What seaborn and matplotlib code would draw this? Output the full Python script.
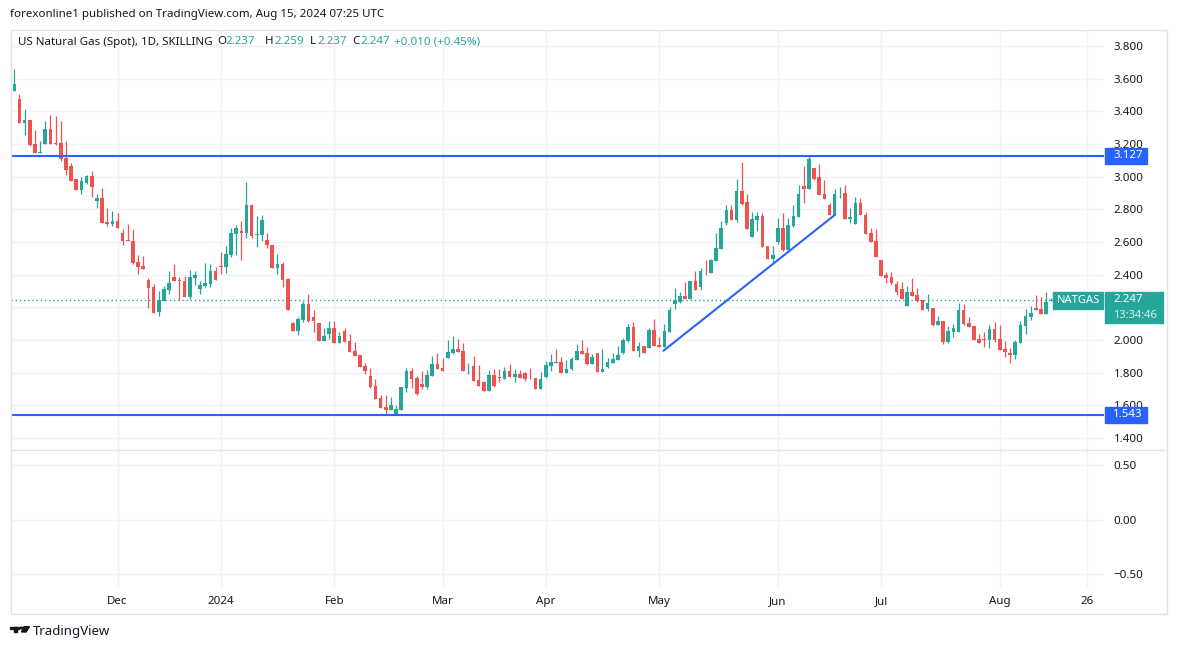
import numpy as np
import pandas as pd
import matplotlib
matplotlib.use("Agg")
import matplotlib.pyplot as plt
from matplotlib.patches import Rectangle, Polygon, Circle
from matplotlib.lines import Line2D
import seaborn as sns

# daily OHLC (Nov 2023 -> Aug 14 2024)
opens = [3.526, 3.475, 3.330, 3.347, 3.200, 3.147, 3.202, 3.292, 3.208, 3.208,
         3.116, 3.065, 2.985, 2.920, 2.963, 3.004, 2.853, 2.871, 2.722, 2.710,
         2.728, 2.657, 2.612, 2.606, 2.479, 2.455, 2.367, 2.322, 2.173, 2.241,
         2.308, 2.383, 2.367, 2.363, 2.265, 2.382, 2.314, 2.331, 2.345, 2.423,
         2.453, 2.447, 2.521, 2.649, 2.668, 2.657, 2.827, 2.645, 2.645, 2.612,
         2.582, 2.443, 2.465, 2.376, 2.104, 2.057, 2.125, 2.221, 2.141, 2.104,
         1.996, 2.037, 2.074, 1.984, 2.053, 1.992, 1.933, 1.908, 1.840, 1.779,
         1.718, 1.642, 1.589, 1.571, 1.542, 1.571, 1.706, 1.810, 1.767, 1.730,
         1.710, 1.779, 1.855, 1.828, 1.891, 1.920, 1.944, 1.932, 1.814, 1.840,
         1.755, 1.742, 1.687, 1.785, 1.773, 1.761, 1.810, 1.773, 1.791, 1.800,
         1.769, 1.767, 1.700, 1.775, 1.841, 1.865, 1.865, 1.800, 1.822, 1.877,
         1.932, 1.920, 1.853, 1.920, 1.804, 1.834, 1.859, 1.877, 1.920, 1.994,
         2.077, 1.932, 1.963, 1.951, 2.061, 1.969, 1.957, 2.049, 2.220, 2.232,
         2.269, 2.251, 2.361, 2.324, 2.418, 2.410, 2.484, 2.557, 2.716, 2.796,
         2.734, 2.912, 2.845, 2.630, 2.734, 2.759, 2.575, 2.496, 2.600, 2.685,
         2.551, 2.698, 2.753, 2.943, 2.924, 3.053, 2.998, 2.894, 2.826, 2.765,
         2.898, 2.900, 2.741, 2.710, 2.839, 2.765, 2.655, 2.606, 2.490, 2.398,
         2.385, 2.343, 2.313, 2.209, 2.294, 2.276, 2.245, 2.190, 2.196, 2.092,
         2.117, 1.988, 2.049, 2.049, 2.184, 2.104, 2.086, 2.007, 2.007, 2.000,
         2.068, 2.007, 1.945, 1.921, 1.909, 1.982, 2.086, 2.141, 2.196, 2.190,
         2.160, 2.237]
highs = [3.659, 3.506, 3.414, 3.347, 3.285, 3.218, 3.341, 3.377, 3.373, 3.341,
         3.218, 3.081, 2.985, 3.000, 3.010, 3.036, 2.892, 2.932, 2.810, 2.790,
         2.777, 2.681, 2.710, 2.679, 2.520, 2.516, 2.377, 2.342, 2.300, 2.332,
         2.422, 2.465, 2.387, 2.392, 2.429, 2.423, 2.361, 2.470, 2.463, 2.449,
         2.539, 2.576, 2.684, 2.706, 2.729, 2.968, 2.827, 2.759, 2.765, 2.653,
         2.582, 2.527, 2.478, 2.382, 2.108, 2.141, 2.241, 2.282, 2.184, 2.104,
         2.074, 2.116, 2.116, 2.049, 2.074, 2.037, 1.988, 1.908, 1.861, 1.828,
         1.761, 1.663, 1.663, 1.651, 1.600, 1.710, 1.828, 1.828, 1.779, 1.812,
         1.816, 1.902, 1.922, 1.889, 2.000, 2.024, 2.006, 1.981, 1.859, 1.902,
         1.846, 1.749, 1.816, 1.822, 1.822, 1.834, 1.853, 1.822, 1.816, 1.804,
         1.828, 1.767, 1.804, 1.873, 1.914, 1.947, 1.896, 1.877, 1.896, 1.975,
         2.002, 1.957, 1.914, 1.920, 1.945, 1.889, 1.920, 1.963, 2.012, 2.098,
         2.110, 1.988, 1.963, 2.073, 2.128, 2.018, 2.098, 2.202, 2.318, 2.294,
         2.355, 2.361, 2.422, 2.441, 2.490, 2.496, 2.655, 2.728, 2.826, 2.826,
         2.985, 3.090, 2.894, 2.783, 2.783, 2.777, 2.575, 2.575, 2.747, 2.777,
         2.747, 2.826, 2.949, 3.065, 3.126, 3.053, 3.077, 2.979, 2.839, 2.924,
         2.936, 2.949, 2.808, 2.875, 2.869, 2.783, 2.685, 2.679, 2.490, 2.416,
         2.416, 2.361, 2.356, 2.331, 2.380, 2.319, 2.245, 2.282, 2.196, 2.147,
         2.117, 2.086, 2.098, 2.227, 2.221, 2.141, 2.086, 2.037, 2.049, 2.092,
         2.111, 2.092, 1.994, 1.951, 2.000, 2.117, 2.190, 2.209, 2.276, 2.264,
         2.294, 2.259]
lows = [3.526, 3.330, 3.255, 3.188, 3.147, 3.147, 3.202, 3.202, 3.194, 3.098,
        3.010, 2.975, 2.920, 2.894, 2.953, 2.877, 2.810, 2.718, 2.698, 2.698,
        2.687, 2.581, 2.606, 2.463, 2.404, 2.434, 2.198, 2.167, 2.147, 2.241,
        2.281, 2.363, 2.245, 2.265, 2.251, 2.337, 2.282, 2.327, 2.327, 2.368,
        2.404, 2.412, 2.506, 2.521, 2.490, 2.627, 2.627, 2.570, 2.606, 2.566,
        2.443, 2.404, 2.327, 2.184, 2.057, 2.033, 2.112, 2.108, 2.049, 1.996,
        1.996, 2.004, 1.984, 1.984, 1.990, 1.929, 1.904, 1.837, 1.791, 1.706,
        1.638, 1.583, 1.542, 1.571, 1.542, 1.571, 1.679, 1.706, 1.665, 1.698,
        1.698, 1.779, 1.822, 1.810, 1.891, 1.914, 1.926, 1.810, 1.791, 1.749,
        1.720, 1.687, 1.687, 1.712, 1.742, 1.761, 1.773, 1.742, 1.767, 1.749,
        1.761, 1.700, 1.700, 1.765, 1.812, 1.859, 1.800, 1.800, 1.816, 1.877,
        1.914, 1.847, 1.853, 1.804, 1.804, 1.828, 1.859, 1.877, 1.914, 1.988,
        1.932, 1.896, 1.920, 1.951, 1.963, 1.957, 1.957, 2.049, 2.190, 2.226,
        2.251, 2.251, 2.306, 2.306, 2.398, 2.410, 2.484, 2.557, 2.704, 2.734,
        2.722, 2.826, 2.679, 2.630, 2.667, 2.569, 2.496, 2.477, 2.588, 2.545,
        2.551, 2.692, 2.753, 2.839, 2.924, 2.979, 2.888, 2.863, 2.765, 2.765,
        2.869, 2.741, 2.716, 2.710, 2.765, 2.649, 2.600, 2.508, 2.392, 2.349,
        2.336, 2.275, 2.251, 2.208, 2.270, 2.233, 2.184, 2.178, 2.086, 2.092,
        1.976, 1.982, 2.019, 2.049, 2.092, 2.080, 2.000, 1.982, 1.958, 1.951,
        1.988, 1.939, 1.896, 1.860, 1.884, 1.982, 2.037, 2.123, 2.184, 2.160,
        2.160, 2.237]
closes = [3.567, 3.330, 3.347, 3.194, 3.147, 3.153, 3.292, 3.202, 3.202, 3.108,
          3.043, 2.975, 2.920, 2.973, 3.004, 2.938, 2.871, 2.718, 2.710, 2.728,
          2.687, 2.606, 2.606, 2.469, 2.449, 2.434, 2.318, 2.167, 2.245, 2.312,
          2.349, 2.363, 2.361, 2.265, 2.384, 2.398, 2.335, 2.349, 2.423, 2.368,
          2.449, 2.527, 2.655, 2.686, 2.657, 2.827, 2.637, 2.651, 2.733, 2.582,
          2.443, 2.465, 2.368, 2.184, 2.057, 2.129, 2.221, 2.116, 2.116, 1.996,
          2.025, 2.074, 1.984, 2.025, 1.990, 1.929, 1.904, 1.837, 1.812, 1.710,
          1.638, 1.583, 1.571, 1.600, 1.575, 1.710, 1.810, 1.761, 1.671, 1.710,
          1.785, 1.855, 1.822, 1.810, 1.926, 1.944, 1.926, 1.810, 1.818, 1.749,
          1.720, 1.687, 1.785, 1.718, 1.767, 1.810, 1.773, 1.791, 1.767, 1.761,
          1.765, 1.700, 1.761, 1.847, 1.865, 1.859, 1.800, 1.822, 1.883, 1.932,
          1.914, 1.853, 1.896, 1.804, 1.822, 1.865, 1.883, 1.908, 2.000, 2.077,
          1.932, 1.963, 1.920, 2.061, 1.963, 1.957, 2.055, 2.184, 2.243, 2.269,
          2.251, 2.361, 2.306, 2.422, 2.414, 2.490, 2.563, 2.685, 2.796, 2.734,
          2.912, 2.832, 2.679, 2.741, 2.759, 2.569, 2.496, 2.520, 2.685, 2.551,
          2.704, 2.759, 2.894, 2.924, 3.108, 2.986, 2.888, 2.863, 2.765, 2.894,
          2.900, 2.741, 2.753, 2.839, 2.765, 2.649, 2.600, 2.508, 2.392, 2.379,
          2.349, 2.294, 2.251, 2.294, 2.270, 2.239, 2.184, 2.227, 2.092, 2.117,
          1.988, 2.056, 2.074, 2.184, 2.098, 2.080, 2.000, 1.982, 2.003, 2.068,
          2.000, 1.939, 1.927, 1.909, 1.988, 2.092, 2.147, 2.166, 2.184, 2.160,
          2.233, 2.247]

# bar index where each month label sits (TradingView counts trading days)
month_bars = [20, 40, 62, 83, 103, 125, 148, 168, 191, 208]
month_labels = ["Dec", "2024", "Feb", "Mar", "Apr", "May", "Jun", "Jul", "Aug", "26"]

price_ticks = [1.4, 1.6, 1.8, 2.0, 2.2, 2.4, 2.6, 2.8, 3.0, 3.2, 3.4, 3.6, 3.8]
osc_ticks = [-0.5, 0.0, 0.5]

resistance = 3.127
support = 1.543
last_price = 2.247
trend_x = [125.8, 159.0]
trend_y = [1.934, 2.765]

UP = "#26a69a"
DOWN = "#ef5350"
BLUE = "#2962ff"
TXT = "#131722"
GRID = "#f0f3fa"

df = pd.DataFrame({"open": opens, "high": highs, "low": lows, "close": closes})
df["bar"] = np.arange(len(df))
df["color"] = np.where(df["close"] >= df["open"], UP, DOWN)
df["body_lo"] = df[["open", "close"]].min(axis=1)
df["body_h"] = (df["close"] - df["open"]).abs().clip(lower=0.005)

sns.set_theme(style="white")
plt.rcParams["font.family"] = ["Noto Sans", "DejaVu Sans"]

W, H = 1177, 650
fig = plt.figure(figsize=(W / 100, H / 100), dpi=100)


def px_axes(x0, y0, x1, y1):
    return fig.add_axes([x0 / W, 1 - y1 / H, (x1 - x0) / W, (y1 - y0) / H])


def px_text(x, y, s, **kw):
    kw.setdefault("color", TXT)
    kw.setdefault("fontsize", 8.3)
    fig.text(x / W, 1 - y / H, s, va="center", ha=kw.pop("ha", "left"), **kw)


ax = px_axes(10.5, 30, 1104, 450)
ax2 = px_axes(10.5, 450, 1104, 588)

# candles
ax.vlines(df["bar"], df["low"], df["high"], colors=df["color"], lw=0.9, zorder=3)
ax.bar(df["bar"], df["body_h"], bottom=df["body_lo"], width=0.7,
       color=df["color"], linewidth=0, zorder=4)

# levels and trend line
ax.axhline(resistance, color=BLUE, lw=1.5, zorder=5)
ax.axhline(support, color=BLUE, lw=1.5, zorder=5)
sns.lineplot(x=trend_x, y=trend_y, ax=ax, color=BLUE, lw=1.5, zorder=5)
ax.axhline(last_price, xmax=(1053 - 10.5) / 1093.5, color=UP, lw=1,
           ls=(0, (1, 2)), zorder=2)

for a in (ax, ax2):
    a.set_xlim(-0.74, 211.2)
    a.set_xticks(month_bars)
    a.grid(True, color=GRID, lw=1)
    a.set_axisbelow(True)
    a.yaxis.tick_right()
    a.tick_params(length=0, labelsize=8.3, colors=TXT, pad=7)
    for s in a.spines.values():
        s.set_visible(False)

ax.set_ylim(1.3265, 3.898)
ax.set_yticks(price_ticks)
# the 2.200 label sits fully under the last-price badge, so it is left blank
ax.set_yticklabels(["" if abs(t - 2.2) < 1e-9 else f"{t:.3f}" for t in price_ticks])
ax.tick_params(labelbottom=False)

ax2.set_ylim(-0.628, 0.6376)
ax2.set_yticks(osc_ticks)
ax2.set_yticklabels(["\u22120.50", "0.00", "0.50"])
ax2.set_xticklabels(month_labels)
ax2.tick_params(axis="x", pad=6)
for lab in ax2.get_xticklabels():
    if lab.get_text() == "2024":
        lab.set_fontweight("bold")

# price scale badges
ytr = ax.get_yaxis_transform()
axw = 1093.5
for lvl in (resistance, support):
    ax.add_patch(Rectangle((1 + 0.5 / axw, lvl - 0.049), 42 / axw, 0.098,
                           transform=ytr, color=BLUE, clip_on=False, zorder=10))
    ax.text(1 + 9 / axw, lvl, f"{lvl:.3f}", transform=ytr, color="white",
            fontsize=8.3, va="center", ha="left", zorder=11, clip_on=False)

ax.add_patch(Rectangle(((1053 - 10.5) / axw, last_price - 0.058), 50 / axw, 0.106,
                       transform=ytr, color=UP, clip_on=False, zorder=10))
ax.text((1078 - 10.5) / axw, last_price - 0.006, "NATGAS", transform=ytr,
        color="white", fontsize=8, va="center", ha="center", zorder=11)
ax.add_patch(Rectangle((1 + 0.5 / axw, last_price - 0.143), 58 / axw, 0.19,
                       transform=ytr, color=UP, clip_on=False, zorder=10))
ax.text(1 + 9 / axw, last_price + 0.004, f"{last_price:.3f}", transform=ytr,
        color="white", fontsize=8.3, va="center", ha="left", zorder=11, clip_on=False)
ax.text(1 + 9 / axw, last_price - 0.094, "13:34:46", transform=ytr,
        color="#d4efec", fontsize=8, va="center", ha="left", zorder=11, clip_on=False)

# frame and pane separator
frame = "#e0e3eb"
for xs, ys in [([10.5, 10.5], [30, 614]), ([1167, 1167], [30, 614]),
               ([10.5, 1167], [614, 614]), ([10.5, 1167], [30, 30]),
               ([10.5, 1167], [450, 450])]:
    fig.add_artist(Line2D([x / W for x in xs], [1 - y / H for y in ys],
                          color=frame, lw=1))

# header texts
px_text(10, 14, "forexonline1 published on TradingView.com, Aug 15, 2024 07:25 UTC")
px_text(18, 42, "US Natural Gas (Spot), 1D, SKILLING")
for x, s, c in [(217, "O", TXT), (225, "2.237", UP), (265, "H", TXT), (274, "2.259", UP),
                (310, "L", TXT), (317, "2.237", UP), (352, "C", TXT), (360, "2.247", UP),
                (394, "+0.010 (+0.45%)", UP)]:
    px_text(x, 42, s, color=c)

# TradingView logo + name
logo = [Rectangle((10 / W, 1 - 629.3 / H), 8.7 / W, 2.6 / H),
        Rectangle((14 / W, 1 - 632 / H), 3.3 / W, 5.3 / H),
        Circle((21.2 / W, 1 - 628 / H), 1.4 / W),
        Polygon([(24 / W, 1 - 626.7 / H), (29.5 / W, 1 - 626.7 / H),
                 (26 / W, 1 - 632 / H), (21.5 / W, 1 - 632 / H)])]
for p in logo:
    p.set_transform(fig.transFigure)
    p.set_color(TXT)
    fig.patches.append(p)
px_text(33, 631, "TradingView", fontsize=9.5)

fig.savefig("out.png", dpi=100, facecolor="white")
